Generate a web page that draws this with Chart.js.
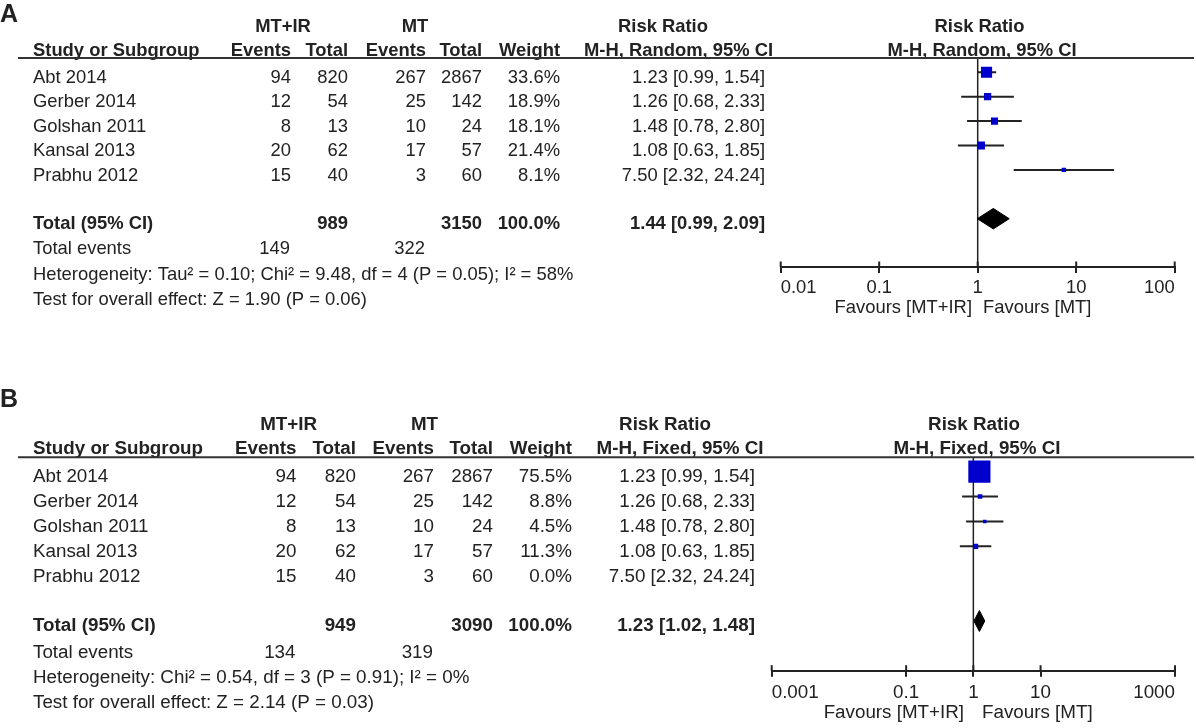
<!DOCTYPE html>
<html>
<head>
<meta charset="utf-8">
<script src="https://cdn.jsdelivr.net/npm/chart.js@4.4.1/dist/chart.umd.min.js"></script>
<style>
  body { margin: 0; background: #fff; }
  #wrap { position: relative; width: 1196px; height: 728px; }
  canvas { position: absolute; left: 0; }
</style>
</head>
<body>
<div id="wrap">
  <canvas id="chartA" width="1196" height="364" style="top:0"></canvas>
  <canvas id="chartB" width="1196" height="364" style="top:364px"></canvas>
</div>
<script>
// study data
const studies = ['Abt 2014', 'Gerber 2014', 'Golshan 2011', 'Kansal 2013', 'Prabhu 2012'];
const irEvents = [94, 12, 8, 20, 15];
const irTotal = [820, 54, 13, 62, 40];
const mtEvents = [267, 25, 10, 17, 3];
const mtTotal = [2867, 142, 24, 57, 60];
const riskRatio = [1.23, 1.26, 1.48, 1.08, 7.50];
const ciLow = [0.99, 0.68, 0.78, 0.63, 2.32];
const ciHigh = [1.54, 2.33, 2.80, 1.85, 24.24];

// panel A (random effects)
const weightA = [33.6, 18.9, 18.1, 21.4, 8.1];
const pooledA = [1.44, 0.99, 2.09];
const totalsA = [989, 3150];
const eventsA = [149, 322];
const hetA = 'Heterogeneity: Tau\u00b2 = 0.10; Chi\u00b2 = 9.48, df = 4 (P = 0.05); I\u00b2 = 58%';
const testA = 'Test for overall effect: Z = 1.90 (P = 0.06)';
const ticksA = [0.01, 0.1, 1, 10, 100];

// panel B (fixed effect)
const weightB = [75.5, 8.8, 4.5, 11.3, 0.0];
const pooledB = [1.23, 1.02, 1.48];
const totalsB = [949, 3090];
const eventsB = [134, 319];
const hetB = 'Heterogeneity: Chi\u00b2 = 0.54, df = 3 (P = 0.91); I\u00b2 = 0%';
const testB = 'Test for overall effect: Z = 2.14 (P = 0.03)';
const ticksB = [0.001, 0.1, 1, 10, 1000];

const FONT = '"Liberation Sans", Arial, sans-serif';
const INK = '#222';
const BLUE = '#0000cc';

const layoutA = {
  letter: 'A', letterY: 15, fs: 18.4, h1: 26.7, h2: 50.7, line: 58,
  row0: 77.5, rowStep: 24.6, totalY: 223.5, evY: 249.3, hetY: 275, testY: 300,
  cols: [291, 348, 426, 482, 560, 765],
  mtirX: 283, mtX: 415, rrX: 663, mhX: 678.5, plotRrX: 979.5, plotMhX: 982,
  method: 'M-H, Random, 95% CI',
  left: 780.7, right: 1174.7, axisY: 267, mark0: 72.3, markStep: 24.4,
  tickPad: 4, favY: 308, favL: 972, favR: 983
};
const layoutB = {
  letter: 'B', letterY: 36, fs: 18.8, h1: 61, h2: 85.3, line: 93.3,
  row0: 112.7, rowStep: 24.95, totalY: 262, evY: 288.7, hetY: 314.3, testY: 339.3,
  cols: [296.5, 356, 434, 493, 572, 755],
  mtirX: 288.6, mtX: 424.5, rrX: 665, mhX: 680, plotRrX: 974, plotMhX: 977,
  method: 'M-H, Fixed, 95% CI',
  left: 771.7, right: 1175, axisY: 306.7, mark0: 107.6, markStep: 24.9,
  tickPad: 5, favY: 349, favL: 964, favR: 982
};

function ci(v, lo, hi) {
  return v.toFixed(2) + ' [' + lo.toFixed(2) + ', ' + hi.toFixed(2) + ']';
}

function tablePlugin(L, weights, pooled, totals, events, het, test) {
  return {
    id: 'table' + L.letter,
    afterDraw(chart) {
      const c = chart.ctx;
      const xs = chart.scales.x;
      c.save();
      c.fillStyle = INK;
      c.textBaseline = 'middle';
      const txt = (s, x, y, align, bold) => {
        c.font = (bold ? 'bold ' : '') + L.fs + 'px ' + FONT;
        c.textAlign = align;
        c.fillText(s, x, y);
      };
      // panel letter
      c.font = 'bold 25px ' + FONT;
      c.textAlign = 'left';
      c.fillText(L.letter, 0, L.letterY);
      // headers
      txt('MT+IR', L.mtirX, L.h1, 'center', true);
      txt('MT', L.mtX, L.h1, 'center', true);
      txt('Risk Ratio', L.rrX, L.h1, 'center', true);
      txt('Risk Ratio', L.plotRrX, L.h1, 'center', true);
      txt('Study or Subgroup', 33, L.h2, 'left', true);
      ['Events', 'Total', 'Events', 'Total', 'Weight'].forEach((h, k) => txt(h, L.cols[k], L.h2, 'right', true));
      txt(L.method, L.mhX, L.h2, 'center', true);
      txt(L.method, L.plotMhX, L.h2, 'center', true);
      // header rule
      c.strokeStyle = '#333';
      c.lineWidth = 2;
      c.beginPath();
      c.moveTo(18, L.line);
      c.lineTo(1194, L.line);
      c.stroke();
      // study rows
      studies.forEach((s, i) => {
        const y = L.row0 + L.rowStep * i;
        txt(s, 33, y, 'left');
        txt(String(irEvents[i]), L.cols[0], y, 'right');
        txt(String(irTotal[i]), L.cols[1], y, 'right');
        txt(String(mtEvents[i]), L.cols[2], y, 'right');
        txt(String(mtTotal[i]), L.cols[3], y, 'right');
        txt(weights[i].toFixed(1) + '%', L.cols[4], y, 'right');
        txt(ci(riskRatio[i], ciLow[i], ciHigh[i]), L.cols[5], y, 'right');
      });
      // totals
      txt('Total (95% CI)', 33, L.totalY, 'left', true);
      txt(String(totals[0]), L.cols[1], L.totalY, 'right', true);
      txt(String(totals[1]), L.cols[3], L.totalY, 'right', true);
      txt('100.0%', L.cols[4], L.totalY, 'right', true);
      txt(ci(pooled[0], pooled[1], pooled[2]), L.cols[5], L.totalY, 'right', true);
      txt('Total events', 33, L.evY, 'left');
      txt(String(events[0]), L.cols[0] - 1, L.evY, 'right');
      txt(String(events[1]), L.cols[2] - 1, L.evY, 'right');
      txt(het, 33, L.hetY, 'left');
      txt(test, 33, L.testY, 'left');
      // upper half of axis ticks
      c.strokeStyle = INK;
      c.lineWidth = 2;
      xs.ticks.forEach(t => {
        const px = xs.getPixelForValue(t.value);
        c.beginPath();
        c.moveTo(px, xs.top - 5.5);
        c.lineTo(px, xs.top);
        c.stroke();
      });
      // favours labels
      txt('Favours [MT+IR]', L.favL, L.favY, 'right');
      txt('Favours [MT]', L.favR, L.favY, 'left');
      c.restore();
    }
  };
}

function makePanel(id, L, weights, pooled, totals, events, het, test, tickVals) {
  const yMin = -(L.mark0 - L.line) / L.markStep;
  const yMax = (L.axisY - L.mark0) / L.markStep;
  const shown = studies.map((s, i) => i).filter(i => weights[i] > 0);
  const pooledRow = 6;
  const half = 0.42;

  const datasets = [];
  // squares sized by weight
  datasets.push({
    data: shown.map(i => ({ x: riskRatio[i], y: i })),
    pointStyle: 'rect',
    pointRadius: shown.map(i => (2.3 + 0.263 * weights[i]) / Math.SQRT2),
    backgroundColor: BLUE,
    borderWidth: 0
  });
  // pooled diamond
  datasets.push({
    data: [
      { x: pooled[1], y: pooledRow },
      { x: pooled[0], y: pooledRow - half },
      { x: pooled[2], y: pooledRow },
      { x: pooled[0], y: pooledRow + half },
      { x: pooled[1], y: pooledRow }
    ],
    showLine: true,
    fill: 'shape',
    backgroundColor: '#000',
    borderColor: '#000',
    borderWidth: 1,
    pointRadius: 0,
    tension: 0
  });
  // confidence intervals
  shown.forEach(i => {
    datasets.push({
      data: [{ x: ciLow[i], y: i }, { x: ciHigh[i], y: i }],
      showLine: true,
      borderColor: INK,
      borderWidth: 2,
      pointRadius: 0
    });
  });
  // line of no effect
  datasets.push({
    data: [{ x: 1, y: yMin }, { x: 1, y: yMax }],
    showLine: true,
    borderColor: INK,
    borderWidth: 1.5,
    pointRadius: 0
  });

  const axisH = 6 + L.tickPad + L.fs * 1.2;

  return new Chart(document.getElementById(id), {
    type: 'scatter',
    data: { datasets },
    options: {
      responsive: false,
      animation: false,
      events: [],
      layout: {
        padding: {
          left: L.left,
          right: 1196 - L.right,
          top: L.line,
          bottom: 364 - L.axisY - axisH
        }
      },
      plugins: {
        legend: { display: false },
        tooltip: { enabled: false }
      },
      scales: {
        x: {
          type: 'logarithmic',
          min: tickVals[0],
          max: tickVals[tickVals.length - 1],
          afterBuildTicks: s => { s.ticks = tickVals.map(v => ({ value: v })); },
          afterFit: s => { s.height = axisH; },
          grid: { drawOnChartArea: false, drawTicks: true, tickLength: 6, color: INK, lineWidth: 2 },
          border: { display: true, color: INK, width: 2 },
          ticks: {
            autoSkip: false,
            maxRotation: 0,
            align: 'inner',
            padding: L.tickPad,
            color: INK,
            font: { family: FONT, size: L.fs, lineHeight: 1.2 },
            callback: v => String(v)
          }
        },
        y: {
          type: 'linear',
          display: false,
          reverse: true,
          min: yMin,
          max: yMax
        }
      }
    },
    plugins: [tablePlugin(L, weights, pooled, totals, events, het, test)]
  });
}

makePanel('chartA', layoutA, weightA, pooledA, totalsA, eventsA, hetA, testA, ticksA);
makePanel('chartB', layoutB, weightB, pooledB, totalsB, eventsB, hetB, testB, ticksB);
</script>
</body>
</html>
